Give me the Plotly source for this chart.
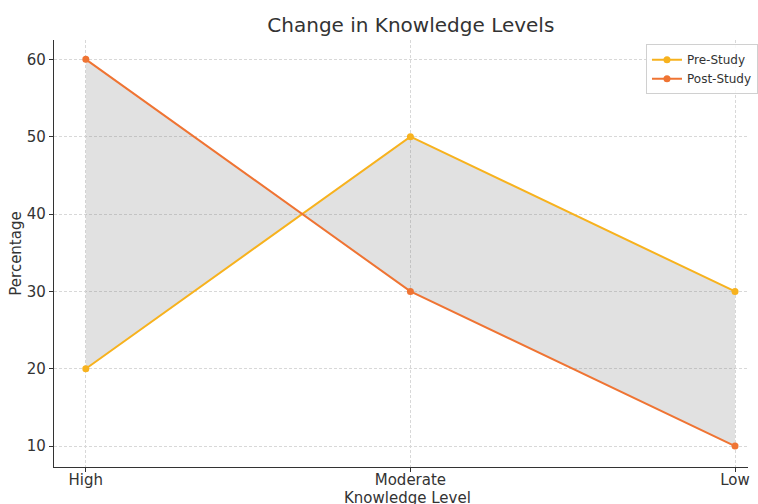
import plotly.graph_objects as go

levels = ["High", "Moderate", "Low"]
pre_study = [20, 50, 30]
post_study = [60, 30, 10]

PRE_COLOR = "#f7b21e"
POST_COLOR = "#ef7433"
FONT = "DejaVu Sans"
TEXT = "#333333"

fig = go.Figure()

# shaded band between the two series
fig.add_trace(go.Scatter(
    x=levels + levels[::-1],
    y=pre_study + post_study[::-1],
    fill="toself",
    fillcolor="rgba(128,128,128,0.24)",
    line=dict(width=0),
    mode="lines",
    hoverinfo="skip",
    showlegend=False,
))

fig.add_trace(go.Scatter(
    x=levels, y=pre_study, name="Pre-Study",
    mode="lines+markers",
    line=dict(color=PRE_COLOR, width=2),
    marker=dict(color=PRE_COLOR, size=7),
))
fig.add_trace(go.Scatter(
    x=levels, y=post_study, name="Post-Study",
    mode="lines+markers",
    line=dict(color=POST_COLOR, width=2),
    marker=dict(color=POST_COLOR, size=7),
))

axis_common = dict(
    showline=True, linecolor=TEXT, linewidth=1.3,
    ticks="outside", ticklen=4, tickcolor=TEXT, tickwidth=1,
    showgrid=True, gridcolor="#d8d8d8", gridwidth=0.8, griddash="3px,2px",
    zeroline=False, mirror=False, automargin=False,
    tickfont=dict(family=FONT, size=15, color=TEXT),
)

fig.update_xaxes(
    **axis_common,
    type="category",
    range=[-0.098, 2.04],
    ticklabelstandoff=-5,
)
fig.update_yaxes(
    **axis_common,
    range=[7.3, 62.5],
    tickvals=[10, 20, 30, 40, 50, 60],
    title=dict(text="Percentage", font=dict(family=FONT, size=15, color=TEXT), standoff=1),
)

# x-axis title placed just below the tick labels
fig.add_annotation(
    text="Knowledge Level", xref="paper", yref="paper",
    x=0.509, y=-0.073, xanchor="center", yanchor="middle",
    showarrow=False, font=dict(family=FONT, size=15, color=TEXT),
)

fig.update_layout(
    width=758, height=504,
    margin=dict(l=54, r=0, t=40, b=37),
    paper_bgcolor="white", plot_bgcolor="white",
    font=dict(family=FONT, color=TEXT),
    title=dict(
        text="Change in Knowledge Levels",
        x=0.542, xref="container", xanchor="center",
        y=0.95, yref="container", yanchor="middle",
        font=dict(family=FONT, size=20, color=TEXT),
    ),
    legend=dict(
        x=0.853, y=0.99, xanchor="left", yanchor="top",
        bgcolor="rgba(255,255,255,0.85)", bordercolor="#d0d0d0", borderwidth=1,
        font=dict(family=FONT, size=12, color=TEXT),
        itemwidth=30, tracegroupgap=0,
    ),
)

fig.write_html("out.html")
